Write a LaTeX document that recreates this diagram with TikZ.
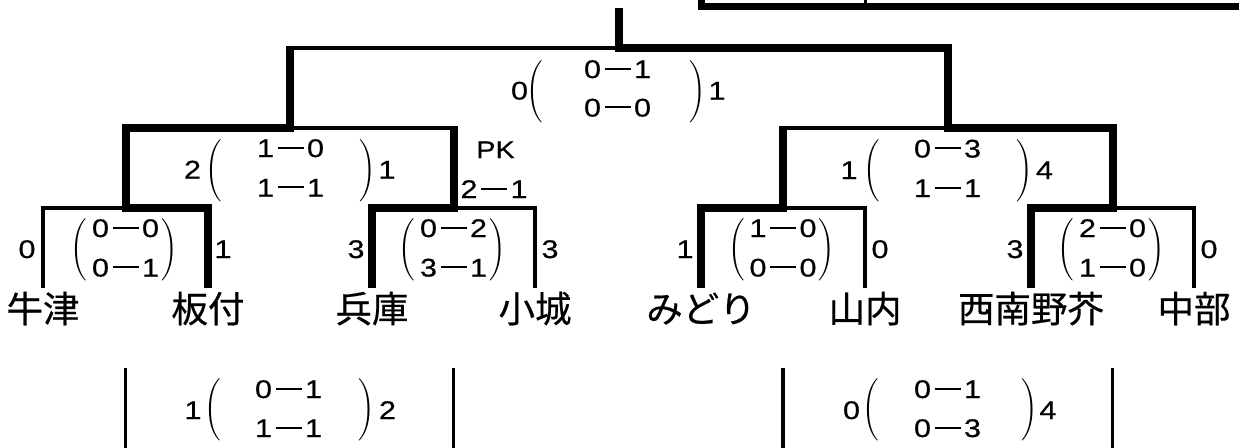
\documentclass[tikz,border=0pt]{standalone}
\usepackage{fontspec}
\usepackage{exscale}
\setmainfont{Liberation Sans}
\newfontfamily\jp[FakeBold=0.5]{Noto Sans CJK JP}
\newfontfamily\dig[FakeStretch=1.2,FakeBold=0.6]{Liberation Sans}
\newcommand\sr[2]{#1\kern3.5pt\rule[8.1pt]{26pt}{2.2pt}\kern3.5pt#2}
\newcommand\lparA{{\fontsize{22}{22}\selectfont$\left(\vrule height 36.5pt depth 25.5pt width 0pt\right.$}}
\newcommand\rparA{{\fontsize{22}{22}\selectfont$\left.\vrule height 36.5pt depth 25.5pt width 0pt\right)$}}
\newcommand\lparF{{\fontsize{22.7}{22.7}\selectfont$\left(\vrule height 37.7pt depth 26.3pt width 0pt\right.$}}
\newcommand\rparF{{\fontsize{22.7}{22.7}\selectfont$\left.\vrule height 37.7pt depth 26.3pt width 0pt\right)$}}
\begin{document}
\begin{tikzpicture}[x=1pt,y=-1pt,
  win/.style={line width=8pt, line join=miter},
  lose/.style={line width=3.2pt, line join=miter},
  sc/.style={font=\dig\fontsize{25.5}{25.5}\selectfont, inner sep=0pt, anchor=base},
  pkf/.style={font=\dig\fontsize{24}{24}\selectfont, inner sep=0pt, anchor=base},
  lbl/.style={font=\jp\fontsize{36.5}{36.5}\selectfont, inner sep=0pt, anchor=base},
  par/.style={inner sep=0pt}]
\useasboundingbox (0,0) rectangle (1239,447);
\clip (0,0) rectangle (1239,447);
% ---------- coordinates ----------
\coordinate (L1) at (43,288);   \coordinate (L2) at (208,288);
\coordinate (L3) at (372,288);  \coordinate (L4) at (535,288);
\coordinate (L5) at (701,288);  \coordinate (L6) at (865,288);
\coordinate (L7) at (1031,288); \coordinate (L8) at (1194,288);
\coordinate (q1) at (125.5,208); \coordinate (q2) at (453.5,208);
\coordinate (q3) at (783,208);   \coordinate (q4) at (1112.5,208);
\coordinate (s1) at (290,128);   \coordinate (s1r) at (453.5,128);
\coordinate (s2) at (947.75,128); \coordinate (s2l) at (783,128);
\coordinate (fL) at (290,48);    \coordinate (f0) at (619,48);
\coordinate (top) at (619,8);
% top-right box (clipped)
\coordinate (bxA) at (701.5,-6); \coordinate (bxB) at (1250,6.5);
\coordinate (bxC) at (865,-6);   \coordinate (bxD) at (865,4);
% bottom lines
\coordinate (b1t) at (125.5,368); \coordinate (b1b) at (125.5,452);
\coordinate (b2t) at (453.5,368); \coordinate (b2b) at (453.5,452);
\coordinate (b3t) at (783,368);   \coordinate (b3b) at (783,452);
\coordinate (b4t) at (1112.5,368); \coordinate (b4b) at (1112.5,452);
% ---------- bracket lines ----------
\draw[lose] (L1) |- (q1);
\draw[lose] (q2) -| (L4);
\draw[lose] (q3) -| (L6);
\draw[lose] (q4) -| (L8);
\draw[lose] (s1) -- ([xshift=4pt]s1r);
\draw[lose] (s2) -- ([xshift=-4pt]s2l);
\draw[lose] ([xshift=-4pt]fL) -- (f0);
\draw[win] (L2) |- (q1) |- (s1) -- (fL);
\draw[win] (L3) |- (q2) -- (s1r);
\draw[win] (L5) |- (q3) -- (s2l);
\draw[win] (top) -- (f0) -| (s2) -| (q4) -| (L7);
\draw[line width=7pt, line join=miter] (bxA) |- (bxB);
\draw[line width=3pt] (bxC) -- (bxD);
\draw[lose] (b1t) -- (b1b);
\draw[lose] (b2t) -- (b2b);
\draw[lose] (b3t) -- (b3b);
\draw[lose] (b4t) -- (b4b);
% ---------- final ----------
\node[sc] (fr1) at (617.5,78) {\sr{0}{1}};
\node[sc] (fr2) at (617.5,116.5) {\sr{0}{0}};
\node[sc] (fa) at (519.5,99.5) {0};
\node[sc] (fb) at (717,99.5) {1};
\node[par] (flp) at (535,91) {\lparF};
\node[par] (frp) at (697.5,91) {\rparF};
% ---------- semifinal left ----------
\node[sc] (s1r1) at (290.5,157) {\sr{1}{0}};
\node[sc] (s1r2) at (290.5,196.5) {\sr{1}{1}};
\node[sc] (s1a) at (192.5,178.5) {2};
\node[sc] (s1b) at (387,178.5) {1};
\node[par] (s1lp) at (214,170.5) {\lparA};
\node[par] (s1rp) at (367.5,170.5) {\rparA};
\node[pkf] (pk) at (495.5,158) {PK};
\node[sc] (pks) at (494,198) {\sr{2}{1}};
% ---------- semifinal right ----------
\node[sc] (s2r1) at (947.5,157.5) {\sr{0}{3}};
\node[sc] (s2r2) at (947.5,197) {\sr{1}{1}};
\node[sc] (s2a) at (849,179) {1};
\node[sc] (s2b) at (1044.5,179) {4};
\node[par] (s2lp) at (872,171) {\lparA};
\node[par] (s2rp) at (1024.5,171) {\rparA};
% ---------- quarterfinals ----------
\node[sc] (q1r1) at (125.5,237) {\sr{0}{0}};
\node[sc] (q1r2) at (125.5,276.5) {\sr{0}{1}};
\node[sc] (q1a) at (27,258) {0};
\node[sc] (q1b) at (223,258) {1};
\node[par] (q1lp) at (79.5,250) {\lparA};
\node[par] (q1rp) at (169,250) {\rparA};
\node[sc] (q2r1) at (453.5,237) {\sr{0}{2}};
\node[sc] (q2r2) at (453.5,276.5) {\sr{3}{1}};
\node[sc] (q2a) at (356,258) {3};
\node[sc] (q2b) at (550,258) {3};
\node[par] (q2lp) at (407.5,250) {\lparA};
\node[par] (q2rp) at (497,250) {\rparA};
\node[sc] (q3r1) at (783,237) {\sr{1}{0}};
\node[sc] (q3r2) at (783,276.5) {\sr{0}{0}};
\node[sc] (q3a) at (685,258) {1};
\node[sc] (q3b) at (880,258) {0};
\node[par] (q3lp) at (737,250) {\lparA};
\node[par] (q3rp) at (826.5,250) {\rparA};
\node[sc] (q4r1) at (1112.5,237) {\sr{2}{0}};
\node[sc] (q4r2) at (1112.5,276.5) {\sr{1}{0}};
\node[sc] (q4a) at (1015,258) {3};
\node[sc] (q4b) at (1209,258) {0};
\node[par] (q4lp) at (1066.5,250) {\lparA};
\node[par] (q4rp) at (1156,250) {\rparA};
% ---------- team labels ----------
\node[lbl] (t1) at (43,322.4) {牛津};
\node[lbl] (t2) at (208,322.4) {板付};
\node[lbl] (t3) at (372,322.4) {兵庫};
\node[lbl] (t4) at (535,322.4) {小城};
\node[lbl] (t5) at (701,322.4) {みどり};
\node[lbl] (t6) at (865,322.4) {山内};
\node[lbl] (t7) at (1031,322.4) {西南野芥};
\node[lbl] (t8) at (1194,322.4) {中部};
% ---------- bottom matches ----------
\node[sc] (m1r1) at (288.5,398) {\sr{0}{1}};
\node[sc] (m1r2) at (288.5,437) {\sr{1}{1}};
\node[sc] (m1a) at (193,419) {1};
\node[sc] (m1b) at (387.5,419) {2};
\node[par] (m1lp) at (213.5,409.5) {\lparA};
\node[par] (m1rp) at (366,409.5) {\rparA};
\node[sc] (m2r1) at (947.5,398) {\sr{0}{1}};
\node[sc] (m2r2) at (947.5,437) {\sr{0}{3}};
\node[sc] (m2a) at (851.5,419) {0};
\node[sc] (m2b) at (1048,419) {4};
\node[par] (m2lp) at (871,409.5) {\lparA};
\node[par] (m2rp) at (1029,409.5) {\rparA};
\end{tikzpicture}
\end{document}
